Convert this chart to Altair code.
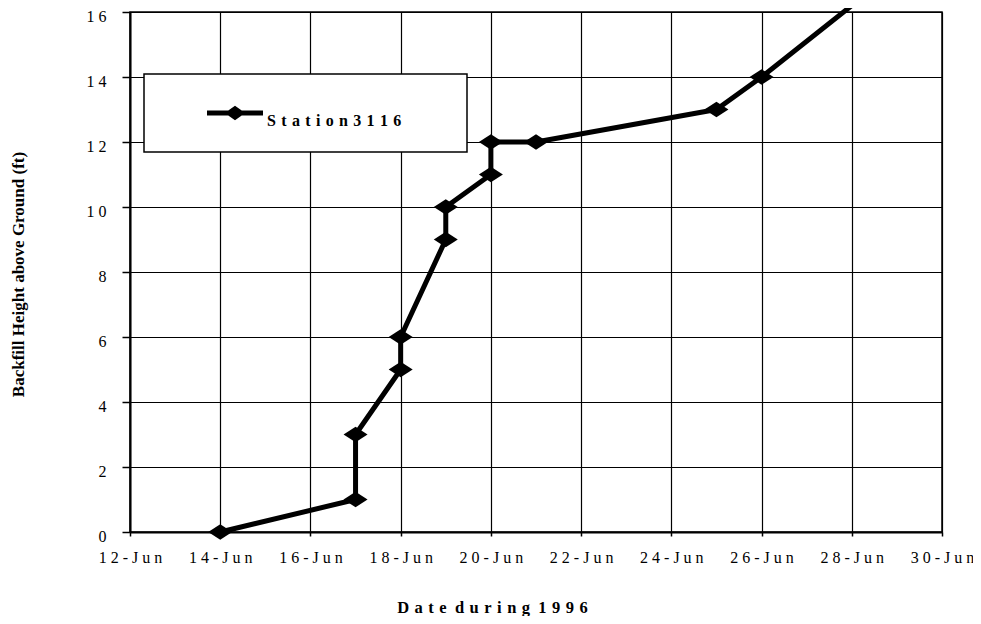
import altair as alt
import pandas as pd

# ---- data ----
day_of_june = [14, 17, 17, 18, 18, 19, 19, 20, 20, 21, 25, 26, 28]
height_ft = [0, 1, 3, 5, 6, 9, 10, 11, 12, 12, 13, 14, 16.2]
series_name = "Station 3116"
x_tick_days = [12, 14, 16, 18, 20, 22, 24, 26, 28, 30]
y_ticks = [0, 2, 4, 6, 8, 10, 12, 14, 16]
month_label = "Jun"
x_title = "Date during 1996"
y_title = "Backfill Height above Ground (ft)"

FONT = "Liberation Serif"
LETTER_GAP = "\u2004"
WORD_GAP = "\u2002"

df = pd.DataFrame({"day": day_of_june, "height": height_ft})
df["series"] = series_name
df["order"] = list(range(len(df)))

x_title_spaced = WORD_GAP.join(LETTER_GAP.join(w) for w in x_title.split(" "))
legend_label_spaced = LETTER_GAP.join(LETTER_GAP.join(w) for w in series_name.split(" "))

diamond = "M-1,0L0,-0.64L1,0L0,0.64Z"
legend_symbol = ("M-1,-0.09L-0.24,-0.09L0,-0.26L0.24,-0.09L1,-0.09"
                 "L1,0.09L0.24,0.09L0,0.26L-0.24,0.09L-1,0.09Z")

x_enc = alt.X(
    "day:Q",
    scale=alt.Scale(domain=[12, 30], nice=False, zero=False),
    axis=alt.Axis(
        values=x_tick_days,
        labelExpr="join(split(toString(datum.value) + '-" + month_label + "', ''), ' ')",
        title=x_title_spaced,
        titleX=362, titleY=75, titleAlign="center", titleBaseline="middle",
        titleFont=FONT, titleFontSize=16.5, titleFontWeight="bold", titleColor="black",
        labelFont=FONT, labelFontSize=16, labelColor="black",
        labelAlign="center", labelBaseline="top", labelPadding=13, labelFlush=False,
        tickSize=4, tickWidth=1.5, tickColor="black",
        domainColor="black", domainWidth=2,
        grid=True, gridColor="black", gridWidth=1.2, gridOpacity=1,
    ),
)
y_enc = alt.Y(
    "height:Q",
    scale=alt.Scale(domain=[0, 16], nice=False),
    axis=alt.Axis(
        values=y_ticks,
        labelExpr="join(split(toString(datum.value), ''), ' ')",
        title=y_title,
        titleX=-112, titleY=262, titleAngle=270, titleAlign="center", titleBaseline="middle",
        titleFont=FONT, titleFontSize=17, titleFontWeight="bold", titleColor="black",
        labelFont=FONT, labelFontSize=16, labelColor="black",
        labelAlign="right", labelBaseline="middle", labelOffset=4, labelPadding=16,
        labelFlush=False,
        tickSize=8, tickWidth=1.5, tickColor="black",
        domainColor="black", domainWidth=2,
        grid=True, gridColor="black", gridWidth=1.2, gridOpacity=1,
    ),
)

base = alt.Chart(df)

legend_box = alt.Chart(pd.DataFrame({"k": [0]})).mark_rect(
    fill="white", stroke="black", strokeWidth=1.5
).encode(
    x=alt.value(14), x2=alt.value(337), y=alt.value(62), y2=alt.value(140)
)

line = base.mark_line(
    color="black", strokeWidth=5, strokeCap="round", strokeJoin="round", clip=False
).encode(x=x_enc, y=y_enc, order=alt.Order("order:Q"))

points = base.transform_filter("datum.height <= 16").mark_point(
    shape=diamond, size=576, filled=True, opacity=1, strokeWidth=0
).encode(
    x=x_enc,
    y=y_enc,
    fill=alt.Fill(
        "series:N",
        scale=alt.Scale(range=["black"]),
        legend=alt.Legend(
            orient="none", legendX=77, legendY=73, title=None,
            symbolType=legend_symbol, symbolSize=3136,
            symbolFillColor="black", symbolStrokeWidth=0, symbolOpacity=1,
            labelFont=FONT, labelFontSize=16, labelFontWeight="bold", labelColor="black",
            labelOffset=4, labelBaseline="top",
            labelExpr="'" + legend_label_spaced + "'",
            padding=0, symbolOffset=0, labelLimit=400,
        ),
    ),
)

chart = alt.layer(legend_box, line, points).properties(
    width=812,
    height=520,
    autosize=alt.AutoSizeParams(type="none"),
    padding={"left": 122, "top": 4, "right": 31, "bottom": 84},
    background="white",
).configure_view(stroke="black", strokeWidth=1.5)

chart.save("out.html", embed_options={"renderer": "svg", "actions": False})
